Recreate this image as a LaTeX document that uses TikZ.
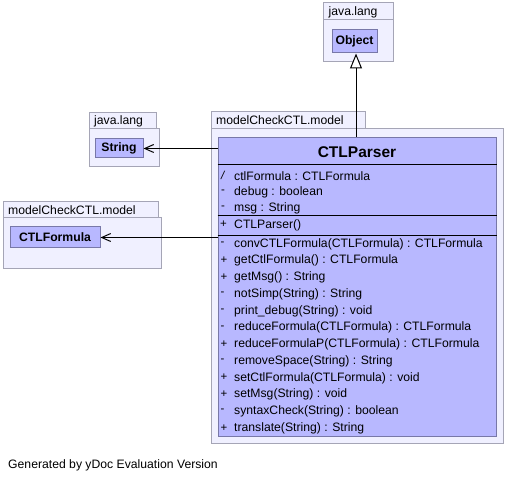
\documentclass[tikz,border=0pt]{standalone}
\usepackage{fontspec}
\setmainfont{Liberation Sans}
\usetikzlibrary{arrows.meta}
\definecolor{pkgfill}{RGB}{240,240,255}
\definecolor{pkgdraw}{RGB}{165,165,182}
\definecolor{clsfill}{RGB}{184,184,255}
\definecolor{clsdraw}{RGB}{120,120,168}
\tikzset{
  pkg/.style={draw=pkgdraw, fill=pkgfill, line width=1pt},
  cls/.style={draw=clsdraw, fill=clsfill, line width=1pt, inner sep=0pt, font=\fontsize{12.2}{14}\selectfont\bfseries},
  pkglabel/.style={anchor=west, inner sep=0pt, font=\fontsize{12.2}{14}\selectfont},
  member/.style={anchor=west, inner sep=0pt, font=\fontsize{12.2}{14}\selectfont},
  vis/.style={anchor=west, inner sep=0pt, font=\fontsize{11.5}{13}\selectfont},
  sep/.style={line width=1pt, black},
  assoc/.style={line width=1pt, -{Straight Barb[length=9pt,width=8pt,line width=1pt]}},
  inherit/.style={line width=1pt, {Triangle[open,length=15pt,width=12pt,line width=1pt,fill=white]}-}
}
\begin{document}
\begin{tikzpicture}[x=1pt,y=-1pt]
\useasboundingbox (0,0) rectangle (506,481);
\fill[white] (0,0) rectangle (506,481);
% Object package
\draw[pkg] (323,3) rectangle (393,20);
\draw[pkg] (323,20) rectangle (393,62);
\node[pkglabel] (objlbl) at (328.5,12) {java.lang};
\node[cls, minimum width=45pt, minimum height=23pt] (object) at (354.5,41.5) {Object};
% String package
\draw[pkg] (89,113) rectangle (156,129);
\draw[pkg] (89,129) rectangle (159,167);
\node[pkglabel] (strlbl) at (94,121.5) {java.lang};
\node[cls, minimum width=48pt, minimum height=19pt] (string) at (119,148.5) {String};
% CTLFormula package
\draw[pkg] (3,202) rectangle (158,218);
\draw[pkg] (3,218) rectangle (161,268);
\node[pkglabel] (fmllbl) at (8,210.5) {modelCheckCTL.model};
\node[cls, minimum width=90pt, minimum height=21pt] (formula) at (55,237.5) {CTLFormula};
% CTLParser package
\draw[pkg] (211,112) rectangle (365,129);
\draw[pkg] (211,129) rectangle (503,443);
\node[pkglabel] (parlbl) at (216,120.5) {modelCheckCTL.model};
\node[draw=clsdraw, fill=clsfill, line width=1pt, inner sep=0pt, minimum width=278pt, minimum height=298pt] (parser) at (357,287) {};
\node[inner sep=0pt, font=\fontsize{15.5}{17}\selectfont\bfseries] (title) at (357,152) {CTLParser};
\draw[sep] (parser.west |- 0,165) -- (parser.east |- 0,165);
\draw[sep] (parser.west |- 0,216) -- (parser.east |- 0,216);
\draw[sep] (parser.west |- 0,236) -- (parser.east |- 0,236);
% attributes
\node[vis] at (221,175) {\itshape /};
\node[member] at (234,176) {ctlFormula : CTLFormula};
\node[vis] at (221,192) {-};
\node[member] at (234,192) {debug : boolean};
\node[vis] at (221,208) {-};
\node[member] at (234,208) {msg : String};
% constructor
\node[vis] at (220,224) {+};
\node[member] at (234,225) {CTLParser()};
% methods
\foreach \v/\t [count=\i from 0] in {
  -/{convCTLFormula(CTLFormula) : CTLFormula},
  +/{getCtlFormula() : CTLFormula},
  +/{getMsg() : String},
  -/{notSimp(String) : String},
  -/{print\_debug(String) : void},
  -/{reduceFormula(CTLFormula) : CTLFormula},
  +/{reduceFormulaP(CTLFormula) : CTLFormula},
  -/{removeSpace(String) : String},
  +/{setCtlFormula(CTLFormula) : void},
  +/{setMsg(String) : void},
  -/{syntaxCheck(String) : boolean},
  +/{translate(String) : String}} {
  \node[vis] at (220.5,{243.5+16.75*\i}) {\v};
  \node[member] at (234,{244+16.75*\i}) {\t};
}
% connectors
\draw[inherit] (object.south -| 356,0) -- (parser.north -| 356,0);
\draw[assoc] (string.east -| parser.west) -- (string.east);
\draw[assoc] (formula.east -| parser.west) -- (formula.east);
% footer
\node[member] (footer) at (8,465) {Generated by yDoc Evaluation Version};
\end{tikzpicture}
\end{document}
